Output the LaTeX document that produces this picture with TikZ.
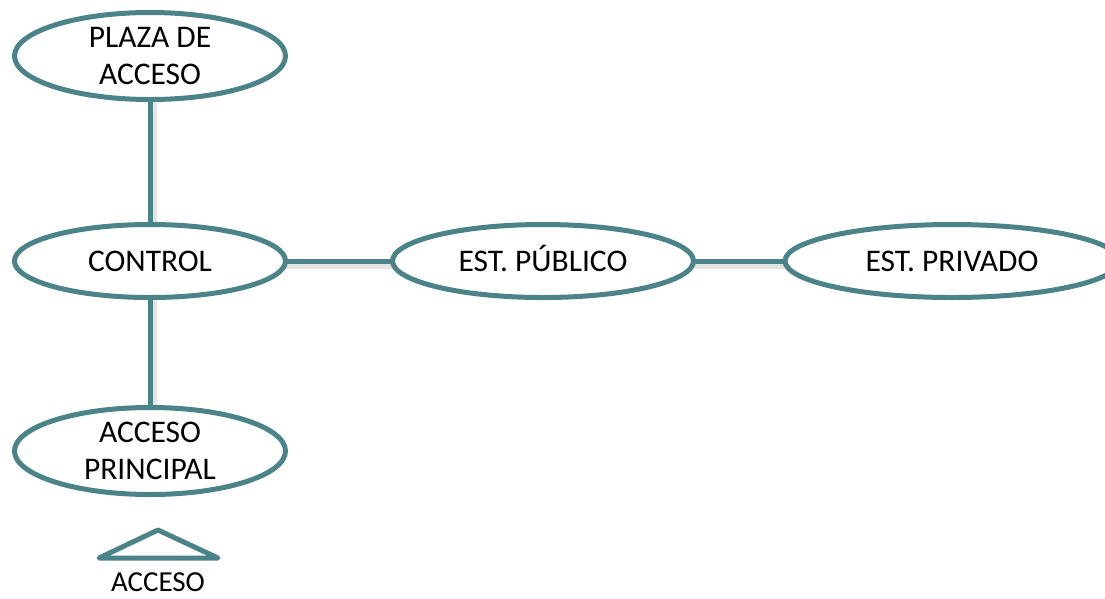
\documentclass[tikz,border=0pt]{standalone}
\usepackage{fontspec}
\setmainfont{Carlito}
\usetikzlibrary{shapes.geometric}

\definecolor{zonaline}{HTML}{4A8388}

\tikzset{
  zona/.style={ellipse,draw=zonaline,line width=5pt,fill=white,inner sep=0pt,
    minimum width=271pt,minimum height=73pt,align=center,
    font=\fontsize{31.5}{37}\selectfont},
  zonauna/.style={text height=24pt,text depth=4pt},
  enlace/.style={draw=zonaline,line width=5pt,
    preaction={draw=black,opacity=0.10,line width=9pt,transform canvas={xshift=2pt,yshift=-3pt}}}
}

\begin{document}
\begin{tikzpicture}[x=1pt,y=-1pt]
\useasboundingbox (0,0) rectangle (1105,598);

% connectors first, ellipses on top
\coordinate (cplaza) at (150,56);
\coordinate (ccontrol) at (150,261);
\coordinate (cpublico) at (543,261);
\coordinate (cprivado) at (952,261);
\coordinate (cprincipal) at (150,451);

\begin{scope}
    \draw [enlace] (cplaza) -- (ccontrol);
    \draw [enlace] (ccontrol) -- (cprincipal);
    \draw [enlace] (ccontrol) -- (cpublico);
    \draw [enlace] (cpublico) -- (cprivado);
\end{scope}

\begin{scope}[every node/.style={zona}]
    \node (plaza) at (cplaza) [minimum height=87pt] {PLAZA DE\\ACCESO};
    \node (control) at (ccontrol) [zonauna] {CONTROL};
    \node (publico) at (cpublico) [zonauna,minimum width=301pt] {EST. PÚBLICO};
    \node (privado) at (cprivado) [zonauna,minimum width=334pt] {EST. PRIVADO};
    \node (principal) at (cprincipal) [minimum height=87pt] {ACCESO\\PRINCIPAL};
\end{scope}

% access marker
\draw [draw=zonaline,line width=5pt,line join=round] (99,558) -- (158,530) -- (218,558) -- cycle;
\node (acceso) at (158,582) [font=\fontsize{29}{33}\selectfont] {ACCESO};

\end{tikzpicture}
\end{document}
